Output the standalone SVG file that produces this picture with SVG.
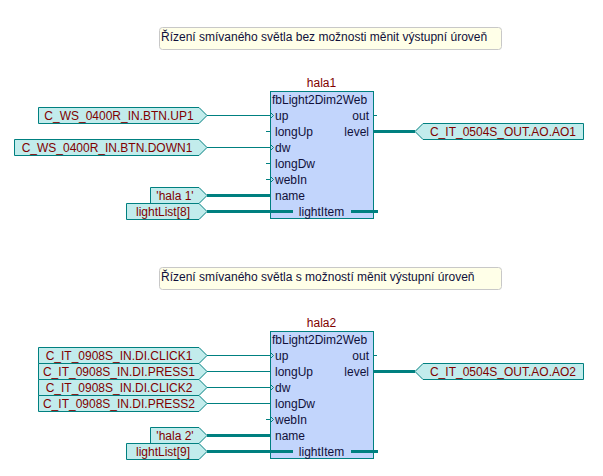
<svg xmlns="http://www.w3.org/2000/svg" width="603" height="476" viewBox="0 0 603 476">
<defs>
<style>
text{font-family:"Liberation Sans",Arial,sans-serif;font-size:12px}
.note rect{fill:#FFFFE8;stroke:#C8C8C8;stroke-width:1}
.note text{fill:#10103A}
.blk rect{fill:#C2D5FC;stroke:#008080;stroke-width:1}
.blk text{fill:#10103A}
.blk .inst{fill:#800000;text-anchor:middle}
.blk .hdr{text-anchor:start}
.blk .out{text-anchor:end}
.blk .mid{text-anchor:middle}
.var path{fill:#C2ECEC;stroke:#008080;stroke-width:1}
.var text{fill:#800000;text-anchor:middle}
.w{stroke:#008080;stroke-width:1;fill:none}
.t{stroke:#008080;stroke-width:3;fill:none}
</style>
</defs>
<rect width="603" height="476" fill="#FFFFFF"/>

<g id="note1" class="note">
<rect x="159.5" y="27.5" width="342" height="22" rx="3"/>
<text x="161" y="41">Řízení smívaného světla bez možnosti měnit výstupní úroveň</text>
</g>
<g id="note2" class="note">
<rect x="159.5" y="267.5" width="342" height="22" rx="3"/>
<text x="161" y="281">Řízení smívaného světla s možností měnit výstupní úroveň</text>
</g>

<g id="hala1" class="blk">
<text class="inst" x="321.5" y="87">hala1</text>
<rect x="270.5" y="91.5" width="103" height="127"/>
<text class="hdr" x="272" y="103.5">fbLight2Dim2Web</text>
<text x="275" y="119.5">up</text>
<text x="275" y="135.5">longUp</text>
<text x="275" y="151.5">dw</text>
<text x="275" y="167.5">longDw</text>
<text x="275" y="183.5">webIn</text>
<text x="275" y="199.5">name</text>
<text class="mid" x="321.5" y="215.5">lightItem</text>
<text class="out" x="369" y="119.5">out</text>
<text class="out" x="369" y="135.5">level</text>
</g>

<g id="hala2" class="blk">
<text class="inst" x="321.5" y="327">hala2</text>
<rect x="270.5" y="331.5" width="103" height="127"/>
<text class="hdr" x="272" y="343.5">fbLight2Dim2Web</text>
<text x="275" y="359.5">up</text>
<text x="275" y="375.5">longUp</text>
<text x="275" y="391.5">dw</text>
<text x="275" y="407.5">longDw</text>
<text x="275" y="423.5">webIn</text>
<text x="275" y="439.5">name</text>
<text class="mid" x="321.5" y="455.5">lightItem</text>
<text class="out" x="369" y="359.5">out</text>
<text class="out" x="369" y="375.5">level</text>
</g>

<g id="in_up1" class="var">
<path d="M38.5 107.5H199L207 115.5L199 123.5H38.5Z"/>
<text x="119" y="119.5">C_WS_0400R_IN.BTN.UP1</text>
</g>
<g id="in_down1" class="var">
<path d="M14.5 139.5H199L207 147.5L199 155.5H14.5Z"/>
<text x="107" y="151.5">C_WS_0400R_IN.BTN.DOWN1</text>
</g>
<g id="in_hala1" class="var">
<path d="M150.5 187.5H199L207 195.5L199 203.5H150.5Z"/>
<text x="175" y="199.5">'hala 1'</text>
</g>
<g id="in_list8" class="var">
<path d="M126.5 203.5H199L207 211.5L199 219.5H126.5Z"/>
<text x="163" y="215.5">lightList[8]</text>
</g>
<g id="out_ao1" class="var">
<path d="M583.5 123.5V139.5H423L415 131.5L423 123.5Z"/>
<text x="503" y="135.5">C_IT_0504S_OUT.AO.AO1</text>
</g>

<g id="in_click1" class="var">
<path d="M38.5 347.5H199L207 355.5L199 363.5H38.5Z"/>
<text x="119" y="359.5">C_IT_0908S_IN.DI.CLICK1</text>
</g>
<g id="in_press1" class="var">
<path d="M38.5 363.5H199L207 371.5L199 379.5H38.5Z"/>
<text x="119" y="375.5">C_IT_0908S_IN.DI.PRESS1</text>
</g>
<g id="in_click2" class="var">
<path d="M38.5 379.5H199L207 387.5L199 395.5H38.5Z"/>
<text x="119" y="391.5">C_IT_0908S_IN.DI.CLICK2</text>
</g>
<g id="in_press2" class="var">
<path d="M38.5 395.5H199L207 403.5L199 411.5H38.5Z"/>
<text x="119" y="407.5">C_IT_0908S_IN.DI.PRESS2</text>
</g>
<g id="in_hala2" class="var">
<path d="M150.5 427.5H199L207 435.5L199 443.5H150.5Z"/>
<text x="175" y="439.5">'hala 2'</text>
</g>
<g id="in_list9" class="var">
<path d="M126.5 443.5H199L207 451.5L199 459.5H126.5Z"/>
<text x="163" y="455.5">lightList[9]</text>
</g>
<g id="out_ao2" class="var">
<path d="M583.5 363.5V379.5H423L415 371.5L423 363.5Z"/>
<text x="503" y="375.5">C_IT_0504S_OUT.AO.AO2</text>
</g>

<g id="connectors">
<path class="w" d="M207 115.5H270M270.5 112.5L273.5 115.5L270.5 118.5"/>
<path class="w" d="M266 131.5H270"/>
<path class="w" d="M207 147.5H270M270.5 144.5L273.5 147.5L270.5 150.5"/>
<path class="w" d="M266 163.5H270"/>
<path class="w" d="M266 179.5H270M270.5 176.5L273.5 179.5L270.5 182.5"/>
<path class="t" d="M207 195.5H270"/>
<path class="t" d="M207 211.5H293"/>
<path class="t" d="M351 211.5H378"/>
<path class="w" d="M373 115.5H377"/>
<path class="t" d="M373 131.5H415"/>
<path class="w" d="M207 355.5H270M270.5 352.5L273.5 355.5L270.5 358.5"/>
<path class="w" d="M207 371.5H270"/>
<path class="w" d="M207 387.5H270M270.5 384.5L273.5 387.5L270.5 390.5"/>
<path class="w" d="M207 403.5H270"/>
<path class="w" d="M266 419.5H270M270.5 416.5L273.5 419.5L270.5 422.5"/>
<path class="t" d="M207 435.5H270"/>
<path class="t" d="M207 451.5H293"/>
<path class="t" d="M351 451.5H378"/>
<path class="w" d="M373 355.5H377"/>
<path class="t" d="M373 371.5H415"/>
</g>
</svg>
